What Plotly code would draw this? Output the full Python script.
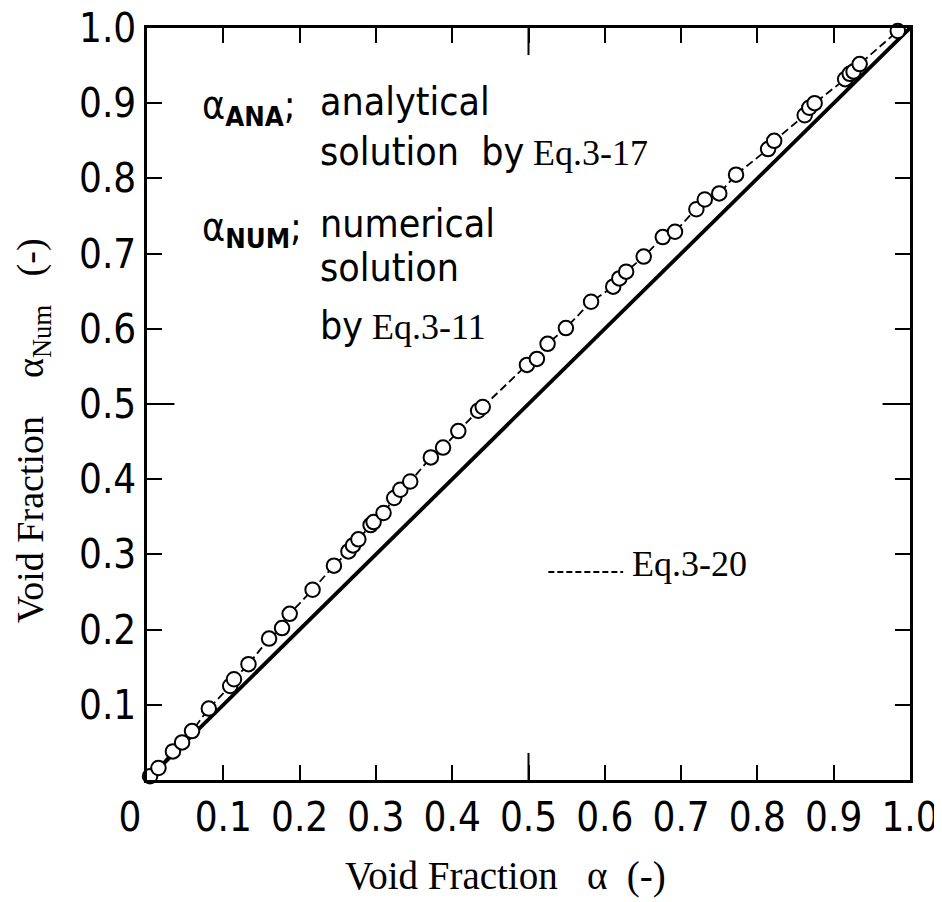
import plotly.graph_objects as go

# ---- data ----
alpha = [0.004, 0.015, 0.034, 0.046, 0.059, 0.081, 0.109, 0.114, 0.133, 0.160,
         0.177, 0.187, 0.217, 0.245, 0.264, 0.270, 0.277, 0.293, 0.297, 0.310,
         0.324, 0.332, 0.345, 0.372, 0.388, 0.408, 0.434, 0.440, 0.498, 0.511,
         0.525, 0.549, 0.582, 0.611, 0.619, 0.628, 0.651, 0.676, 0.692, 0.720,
         0.731, 0.750, 0.772, 0.814, 0.822, 0.862, 0.868, 0.875, 0.915, 0.921,
         0.926, 0.934, 0.984]
alpha_num = [0.005, 0.016, 0.038, 0.050, 0.065, 0.095, 0.125, 0.134, 0.154, 0.188,
             0.202, 0.221, 0.253, 0.285, 0.304, 0.312, 0.320, 0.339, 0.343, 0.355,
             0.375, 0.386, 0.397, 0.429, 0.442, 0.464, 0.491, 0.496, 0.552, 0.560,
             0.580, 0.601, 0.636, 0.656, 0.667, 0.676, 0.696, 0.722, 0.729, 0.759,
             0.772, 0.780, 0.805, 0.839, 0.850, 0.884, 0.894, 0.900, 0.932, 0.939,
             0.942, 0.952, 0.996]
# Eq.3-20 curve runs from the origin through the points to (1, 1)
eq_start = [0.0]
eq_end = [1.0]
# analytical solution line alpha_ANA (y = x)
diag_x = [0.0, 1.0]
diag_y = [0.0, 1.0]

x_tickvals = [0.0, 0.1, 0.2, 0.3, 0.4, 0.5, 0.6, 0.7, 0.8, 0.9, 1.0]
x_ticktext = ["0\u00a0\u00a0\u00a0", "0.1", "0.2", "0.3", "0.4", "0.5", "0.6", "0.7", "0.8", "0.9", "1.0"]
y_tickvals = [0.1, 0.2, 0.3, 0.4, 0.5, 0.6, 0.7, 0.8, 0.9, 1.0]
y_ticktext = ["0.1", "0.2", "0.3", "0.4", "0.5", "0.6", "0.7", "0.8", "0.9", "1.0"]

SANS = "Liberation Sans Narrow, DejaVu Sans Condensed, Arial Narrow, sans-serif"
TICKF = "DejaVu Sans Condensed, DejaVu Sans, sans-serif"
SERIF = "Liberation Serif, Times New Roman, DejaVu Serif, serif"

fig = go.Figure()

fig.add_trace(go.Scatter(
    x=diag_x, y=diag_y, mode="lines",
    line=dict(color="black", width=3.8), showlegend=False, hoverinfo="skip"))

fig.add_trace(go.Scatter(
    x=eq_start + alpha + eq_end, y=eq_start + alpha_num + eq_end, mode="lines",
    line=dict(color="black", width=1.8, dash="8px,4px"), showlegend=False, hoverinfo="skip"))

fig.add_trace(go.Scatter(
    x=alpha, y=alpha_num, mode="markers", cliponaxis=False,
    marker=dict(symbol="circle", size=14.5, color="white", line=dict(color="black", width=2)),
    showlegend=False))

axis_common = dict(
    range=[0, 1], showgrid=False, zeroline=False, automargin=False,
    showline=True, linecolor="black", linewidth=2.5, mirror="ticks",
    ticks="inside", ticklen=15, tickwidth=2, tickcolor="black",
    ticklabeloverflow="allow",
)

fig.update_xaxes(**axis_common, tickvals=x_tickvals, ticktext=x_ticktext,
                 tickfont=dict(family=TICKF, size=40, color="black"))
fig.update_yaxes(**axis_common, tickvals=y_tickvals, ticktext=y_ticktext,
                 tickfont=dict(family=TICKF, size=40, color="black"), ticklabelstandoff=0)

# longer ticks at 0.5 on each side
long_t = 0.036
for (x0, y0, x1, y1) in [(0.5, 0, 0.5, long_t), (0.5, 1, 0.5, 1 - long_t),
                         (0, 0.5, long_t, 0.5), (1, 0.5, 1 - long_t, 0.5)]:
    fig.add_shape(type="line", xref="x", yref="y", x0=x0, y0=y0, x1=x1, y1=y1,
                  line=dict(color="black", width=2))

# Eq.3-20 key line
fig.add_shape(type="line", xref="x", yref="y", x0=0.526, y0=0.2766, x1=0.624, y1=0.2766,
              line=dict(color="black", width=2, dash="6px,3px"))


def ann(text, x, y, font, xanchor="left", **kw):
    fig.add_annotation(text=text, x=x, y=y, xref="x", yref="y", showarrow=False,
                       xanchor=xanchor, yanchor="middle", font=font, **kw)


sans = dict(family=SANS, size=39, color="black")
serif = dict(family=SERIF, size=36, color="black")

ann("α<sub><b>ANA</b></sub>;", 0.0695, 0.895, sans)
ann("analytical", 0.2240, 0.902, sans)
ann("solution\u00a0\u00a0by", 0.2240, 0.836, sans)
ann("Eq.3-17", 0.5030, 0.834, serif)
ann("α<sub><b>NUM</b></sub>;", 0.0695, 0.733, sans)
ann("numerical", 0.2240, 0.740, sans)
ann("solution", 0.2240, 0.682, sans)
ann("by", 0.2240, 0.604, sans)
ann("Eq.3-11", 0.2923, 0.602, serif)
ann("Eq.3-20", 0.633, 0.287, serif)

# axis titles
fig.add_annotation(text="Void Fraction\u00a0\u00a0\u00a0α\u00a0\u00a0(-)", x=0.4705, y=-0.128,
                   xref="paper", yref="paper", showarrow=False, xanchor="center", yanchor="middle",
                   font=dict(family=SERIF, size=39, color="black"))
fig.add_annotation(text="Void Fraction\u00a0\u00a0\u00a0\u00a0α<sub>Num</sub>\u00a0\u00a0\u00a0(-)",
                   x=-0.1495, y=0.465, xref="paper", yref="paper", showarrow=False,
                   xanchor="center", yanchor="middle", textangle=-90,
                   font=dict(family=SERIF, size=38, color="black"))

# page has an 8px body margin, so the figure is 934x894 placed at (8, 8)
fig.update_layout(
    width=934, height=894,
    margin=dict(l=139, r=32, t=20, b=122, autoexpand=False),
    paper_bgcolor="white", plot_bgcolor="white",
    showlegend=False,
)

fig.write_html("out.html")
